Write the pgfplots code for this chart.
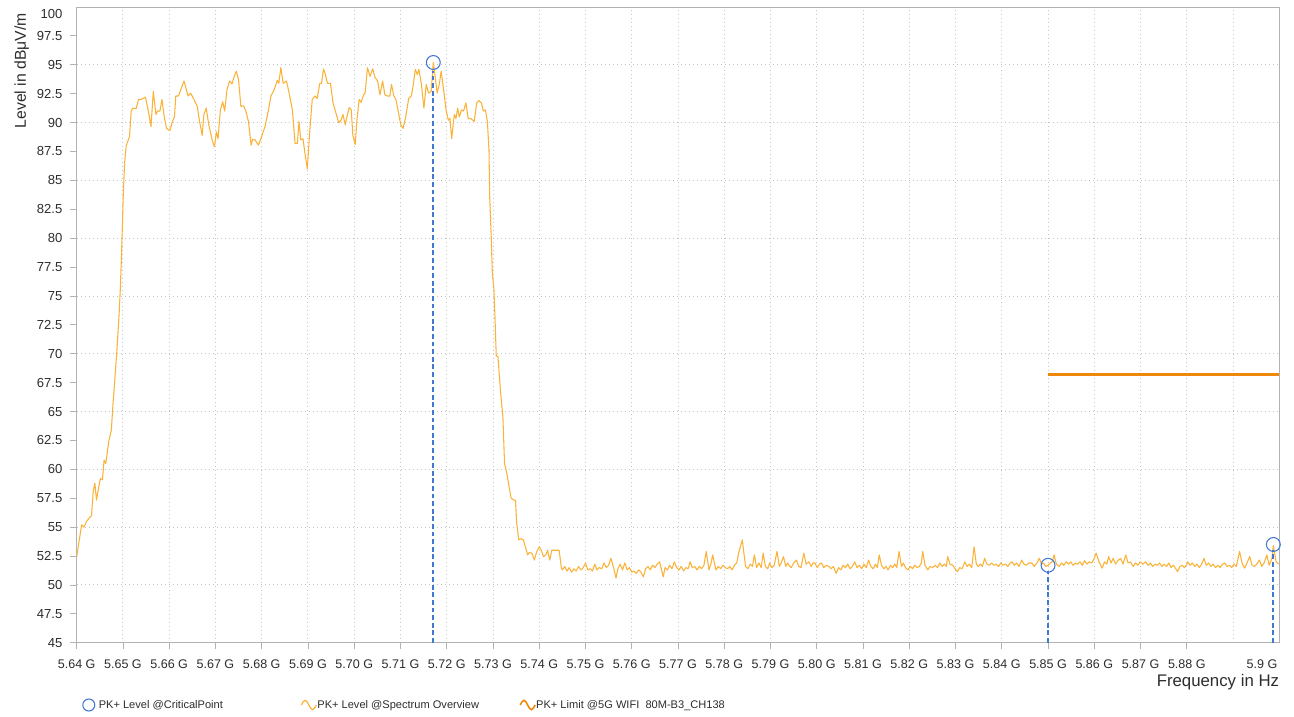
\documentclass[border=0pt]{standalone}
\usepackage{pgfplots}
\pgfplotsset{compat=1.18}
\usepackage{fontspec}
\setmainfont{Liberation Sans}

\definecolor{trace}{RGB}{250,178,56}
\definecolor{limitc}{RGB}{240,136,12}
\definecolor{cpblue}{RGB}{66,120,210}
\definecolor{gridc}{RGB}{196,196,196}
\definecolor{axisc}{RGB}{178,178,178}
\definecolor{txt}{RGB}{45,45,45}

% spectrum trace, frequency in GHz, level in dBuV/m
\pgfplotstableread{
f v
5.64000 52.43
5.64057 53.9
5.64107 55.2
5.64157 55.0
5.64214 55.5
5.64264 55.75
5.64321 56.0
5.64357 58.05
5.64393 58.8
5.64429 57.35
5.64471 58.35
5.64514 59.2
5.64557 59.1
5.64593 60.8
5.64629 60.5
5.64664 61.55
5.64700 62.55
5.64750 63.4
5.64786 65.7
5.64829 68.0
5.64871 70.35
5.64914 73.2
5.64943 75.55
5.64964 77.85
5.64986 80.75
5.65007 83.65
5.65036 86.5
5.65071 88.0
5.65143 88.8
5.65179 91.0
5.65214 91.25
5.65286 91.2
5.65336 92.0
5.65393 92.0
5.65486 92.2
5.65550 91.0
5.65607 89.65
5.65657 92.7
5.65714 90.7
5.65750 91.0
5.65800 91.0
5.65843 92.0
5.65893 90.5
5.65943 89.5
5.66014 89.3
5.66071 90.1
5.66114 90.5
5.66143 92.3
5.66200 92.3
5.66250 92.85
5.66321 93.6
5.66407 92.3
5.66464 92.55
5.66536 92.0
5.66607 91.4
5.66657 90.1
5.66714 88.9
5.66750 90.7
5.66800 91.25
5.66857 89.8
5.66929 88.5
5.66979 87.9
5.67021 89.2
5.67057 88.6
5.67107 91.1
5.67157 91.8
5.67200 91.0
5.67250 92.85
5.67307 93.6
5.67357 93.35
5.67407 94.0
5.67450 94.45
5.67500 93.7
5.67550 91.4
5.67607 91.45
5.67657 91.0
5.67714 90.1
5.67771 88.05
5.67807 88.55
5.67857 88.5
5.67929 88.05
5.68000 88.8
5.68071 89.65
5.68143 91.0
5.68200 92.3
5.68271 92.85
5.68336 93.65
5.68371 93.4
5.68414 94.75
5.68464 93.4
5.68536 93.6
5.68593 92.55
5.68664 91.1
5.68721 88.2
5.68771 88.2
5.68807 90.1
5.68843 88.5
5.68893 88.6
5.68936 87.3
5.68986 86.0
5.69036 89.1
5.69093 92.0
5.69150 92.3
5.69200 92.1
5.69257 93.4
5.69293 93.4
5.69336 94.65
5.69379 94.15
5.69421 93.4
5.69486 93.4
5.69543 91.7
5.69607 90.8
5.69664 90.0
5.69714 90.2
5.69757 90.7
5.69807 89.8
5.69843 90.5
5.69893 91.3
5.69936 91.1
5.69971 88.9
5.70021 88.1
5.70057 90.1
5.70107 92.0
5.70150 91.75
5.70200 92.4
5.70236 92.55
5.70286 94.75
5.70343 94.0
5.70400 94.65
5.70450 93.9
5.70507 93.6
5.70557 92.4
5.70614 93.6
5.70664 92.4
5.70714 92.3
5.70771 92.3
5.70807 93.3
5.70857 92.3
5.70900 92.0
5.70950 91.0
5.71007 89.8
5.71057 89.5
5.71114 90.5
5.71179 92.1
5.71236 92.3
5.71271 93.1
5.71321 94.6
5.71364 94.15
5.71400 94.6
5.71450 93.4
5.71507 91.25
5.71557 93.3
5.71607 92.55
5.71664 92.7
5.71710 95.2
5.71750 94.0
5.71793 92.55
5.71843 93.4
5.71879 94.45
5.71936 92.7
5.71986 91.1
5.72036 90.2
5.72071 90.35
5.72107 88.6
5.72164 90.7
5.72200 90.35
5.72236 91.25
5.72271 90.5
5.72321 91.1
5.72364 91.0
5.72414 91.7
5.72464 90.35
5.72521 90.35
5.72593 90.1
5.72650 91.7
5.72700 91.9
5.72750 91.7
5.72793 91.0
5.72836 91.1
5.72879 90.1
5.72914 87.6
5.72929 83.6
5.72964 79.9
5.72986 77.0
5.73021 75.55
5.73043 73.2
5.73071 69.8
5.73107 69.8
5.73143 67.8
5.73186 65.7
5.73214 64.6
5.73250 60.5
5.73300 59.65
5.73343 58.6
5.73393 57.5
5.73429 57.4
5.73486 57.3
5.73514 55.3
5.73557 53.9
5.73607 54.0
5.73657 53.9
5.73700 53.3
5.73750 52.6
5.73786 52.8
5.73843 52.75
5.73893 52.15
5.73943 52.85
5.74000 53.3
5.74043 53.0
5.74093 52.45
5.74143 52.6
5.74179 53.0
5.74229 52.15
5.74271 53.0
5.74320 53.0
5.74430 53.0
5.74480 51.45
5.7450 51.3
5.7455 51.6
5.7460 51.2
5.7465 51.5
5.7470 51.1
5.7475 51.4
5.7480 51.2
5.7485 51.6
5.7490 51.3
5.7495 51.5
5.7500 51.9
5.7505 51.3
5.7510 51.4
5.7515 51.2
5.7520 51.8
5.7525 51.3
5.7530 51.5
5.7535 51.4
5.7540 51.9
5.7545 51.5
5.7550 51.7
5.7555 52.3
5.7560 51.6
5.7566 50.6
5.7570 51.4
5.7575 51.8
5.7580 51.3
5.7585 51.9
5.7590 51.3
5.7595 51.5
5.7600 51.1
5.7605 51.2
5.7610 51.0
5.7615 51.3
5.7620 51.1
5.7625 50.7
5.7630 51.4
5.7635 51.6
5.7640 51.3
5.7645 51.7
5.7650 51.5
5.7655 51.8
5.7660 52.0
5.7664 51.4
5.7668 50.7
5.7672 51.5
5.7677 51.3
5.7682 51.7
5.7687 51.4
5.7692 52.0
5.7697 51.5
5.7702 51.3
5.7707 51.6
5.7712 51.2
5.7717 51.5
5.7722 51.4
5.7726 52.0
5.7731 51.5
5.7736 51.6
5.7741 51.3
5.7746 51.6
5.7751 51.4
5.7756 51.7
5.7761 52.9
5.7767 51.3
5.7771 51.8
5.7775 52.6
5.7782 51.3
5.7787 51.6
5.7792 51.4
5.7797 51.7
5.7802 51.5
5.7807 51.4
5.7812 51.6
5.7817 51.3
5.7822 51.7
5.7827 51.9
5.7831 52.75
5.7839 53.9
5.7846 51.6
5.7851 51.4
5.7856 51.8
5.7861 51.6
5.7865 52.6
5.7870 51.5
5.7875 51.9
5.7880 51.5
5.7884 52.75
5.7889 51.6
5.7894 51.4
5.7898 51.9
5.7903 51.5
5.7908 51.7
5.7914 52.9
5.7919 51.6
5.7923 51.9
5.7928 52.45
5.7933 51.6
5.7937 51.9
5.7940 51.7
5.7945 51.5
5.7950 51.9
5.7956 52.15
5.7961 51.6
5.7966 51.5
5.7972 52.75
5.7977 51.8
5.7983 52.0
5.7988 51.6
5.7992 51.9
5.7996 51.9
5.8001 51.5
5.8006 51.8
5.8010 51.9
5.8015 51.5
5.8020 51.7
5.8026 51.6
5.8031 51.4
5.8036 51.6
5.8042 51.0
5.8047 51.5
5.8052 51.3
5.8057 51.7
5.8062 51.5
5.8067 51.8
5.8072 51.4
5.8077 51.6
5.8082 52.0
5.8087 51.5
5.8092 51.7
5.8097 51.4
5.8102 51.8
5.8107 51.5
5.8112 52.15
5.8117 51.6
5.8122 51.4
5.8127 51.8
5.8131 51.5
5.8135 52.6
5.8140 51.7
5.8145 51.4
5.8150 51.6
5.8154 51.3
5.8159 51.7
5.8164 51.5
5.8169 51.8
5.8173 51.5
5.8178 52.9
5.8183 51.6
5.8187 51.9
5.8192 51.5
5.8197 51.3
5.8202 51.6
5.8207 51.4
5.8212 51.7
5.8217 51.5
5.8222 51.6
5.8226 51.9
5.8229 52.9
5.8234 51.7
5.8240 51.3
5.8245 51.6
5.8250 51.5
5.8256 51.7
5.8261 51.5
5.8266 51.9
5.8271 51.6
5.8276 51.8
5.8280 51.6
5.8283 52.45
5.8288 51.8
5.8294 51.7
5.8299 51.4
5.8304 51.15
5.8309 51.5
5.8314 51.4
5.8320 52.0
5.8325 51.6
5.8330 51.8
5.8335 51.5
5.8340 53.3
5.8345 51.8
5.8349 51.6
5.8354 51.8
5.8358 51.6
5.8363 52.3
5.8368 51.8
5.8373 51.7
5.8378 51.9
5.8383 51.7
5.8388 51.8
5.8393 51.6
5.8398 51.9
5.8403 51.7
5.8408 51.8
5.8413 51.6
5.8418 51.9
5.8422 52.0
5.8427 51.7
5.8432 51.9
5.8437 51.6
5.8443 52.15
5.8448 51.8
5.8453 51.7
5.8458 51.9
5.8465 51.9
5.8470 51.6
5.8476 51.9
5.8481 52.3
5.8486 51.8
5.8490 51.9
5.8495 51.6
5.8500 51.7
5.8505 51.9
5.8509 52.0
5.8513 52.6
5.8518 51.8
5.8524 51.6
5.8529 51.9
5.8534 51.7
5.8539 52.0
5.8544 51.8
5.8549 52.0
5.8554 51.7
5.8559 51.9
5.8564 51.8
5.8569 52.0
5.8574 51.7
5.8579 52.1
5.8584 51.8
5.8589 52.0
5.8594 51.9
5.8599 52.2
5.8604 52.75
5.8610 52.0
5.8617 51.45
5.8622 52.0
5.8627 51.8
5.8631 52.45
5.8636 51.9
5.8641 52.3
5.8646 51.8
5.8651 52.1
5.8657 52.3
5.8662 51.8
5.8668 52.6
5.8673 51.9
5.8678 52.0
5.8684 51.6
5.8689 51.9
5.8694 51.7
5.8699 52.0
5.8705 51.8
5.8711 52.0
5.8716 51.7
5.8721 51.9
5.8726 51.6
5.8731 51.8
5.8736 51.7
5.8741 51.9
5.8746 51.6
5.8751 51.8
5.8756 51.6
5.8761 51.9
5.8766 51.5
5.8771 51.7
5.8776 51.4
5.8780 51.15
5.8785 51.6
5.8790 51.7
5.8795 51.5
5.8800 51.8
5.8802 52.0
5.8807 51.7
5.8812 51.9
5.8817 51.6
5.8822 51.8
5.8827 51.5
5.8832 51.8
5.8837 52.3
5.8842 51.7
5.8847 51.9
5.8852 51.6
5.8857 51.8
5.8862 51.5
5.8867 51.7
5.8872 51.5
5.8877 51.8
5.8882 51.9
5.8887 51.6
5.8892 51.7
5.8897 51.5
5.8902 51.8
5.8907 51.6
5.8914 52.9
5.8920 51.8
5.8925 51.45
5.8930 51.9
5.8936 52.45
5.8941 51.7
5.8946 51.6
5.8951 51.8
5.8957 52.15
5.8962 51.6
5.8967 51.9
5.8973 52.6
5.8978 51.7
5.8984 52.3
5.8987 53.4
5.8993 52.0
5.8998 51.8
}\spectrum

\begin{document}
\begin{tikzpicture}
\begin{axis}[
  scale only axis, width=902pt, height=476.8pt,
  xmin=5.64, xmax=5.9, ymin=45, ymax=100,
  axis line style={axisc, line width=0.6pt},
  tick pos=left,
  tick align=outside, major tick length=5pt, minor tick length=0pt,
  tick style={axisc, line width=0.6pt},
  xtick={5.64,5.65,5.66,5.67,5.68,5.69,5.70,5.71,5.72,5.73,5.74,5.75,5.76,5.77,5.78,5.79,5.80,5.81,5.82,5.83,5.84,5.85,5.86,5.87,5.88},
  xticklabels={5.64 G,5.65 G,5.66 G,5.67 G,5.68 G,5.69 G,5.70 G,5.71 G,5.72 G,5.73 G,5.74 G,5.75 G,5.76 G,5.77 G,5.78 G,5.79 G,5.80 G,5.81 G,5.82 G,5.83 G,5.84 G,5.85 G,5.86 G,5.87 G,5.88 G},
  ytick={45,47.5,50,52.5,55,57.5,60,62.5,65,67.5,70,72.5,75,77.5,80,82.5,85,87.5,90,92.5,95,97.5},
  yticklabels={45,47.5,50,52.5,55,57.5,60,62.5,65,67.5,70,72.5,75,77.5,80,82.5,85,87.5,90,92.5,95,97.5},
  minor xtick={5.65,5.66,5.67,5.68,5.69,5.70,5.71,5.72,5.73,5.74,5.75,5.76,5.77,5.78,5.79,5.80,5.81,5.82,5.83,5.84,5.85,5.86,5.87,5.88,5.89},
  minor ytick={50,55,60,65,70,75,80,85,90,95},
  xminorgrids=true, yminorgrids=true,
  minor grid style={gridc, dash pattern=on 0.7pt off 2.3pt, line width=0.7pt},
  extra x ticks={5.9}, extra x tick labels={5.9 G},
  extra x tick style={tick style={draw=none}, tick label style={xshift=-13pt}},
  extra y ticks={100}, extra y tick labels={100},
  extra y tick style={tick style={draw=none}, tick label style={yshift=-5pt}},
  xticklabel style={font=\fontsize{9.4}{11}\selectfont, text=txt, inner sep=0pt, yshift=-7.5pt},
  yticklabel style={font=\fontsize{9.8}{11}\selectfont, text=txt, inner sep=0pt, xshift=-5.5pt},
  xlabel={Frequency in Hz},
  ylabel={Level in dBμV/m},
  every axis x label/.style={at={(axis description cs:1,0)}, anchor=east, inner sep=0pt,
    yshift=-29.3pt, font=\fontsize{12.6}{14}\selectfont, text=txt},
  every axis y label/.style={at={(axis description cs:0,1)}, xshift=-41.25pt, yshift=-4.5pt,
    rotate=90, anchor=east, inner sep=0pt, font=\fontsize{11.8}{14}\selectfont, text=txt},
  legend columns=3,
  legend style={at={(axis description cs:0,0)}, anchor=west, xshift=4pt, yshift=-46.7pt,
    draw=none, fill=none, inner sep=0pt, column sep=0pt, row sep=0pt,
    nodes={inner sep=0pt, text=txt, font=\fontsize{8.3}{10}\selectfont, anchor=west}},
]
\addlegendimage{legend image code/.code={\path[draw=none, fill=none] (0pt,-5pt) rectangle (12pt,5pt);
  \draw[cpblue, line width=0.8pt, fill=none] (4.5pt,0pt) circle (4.5pt);}}
\addlegendentry{\makebox[151.5pt][l]{PK+ Level @CriticalPoint}}
\addlegendimage{legend image code/.code={\path[draw=none, fill=none] (0pt,-5pt) rectangle (12pt,5pt);
  \draw[trace, line width=0.9pt, fill=none] (0pt,0pt) sin (2.8pt,3.5pt) cos (5.6pt,0pt) sin (8.4pt,-3.5pt) cos (11.2pt,0pt);}}
\addlegendentry{\makebox[151.5pt][l]{PK+ Level @Spectrum Overview}}
\addlegendimage{legend image code/.code={\path[draw=none, fill=none] (0pt,-5pt) rectangle (12pt,5pt);
  \draw[limitc, line width=1.2pt, fill=none] (0pt,0pt) sin (2.8pt,3.5pt) cos (5.6pt,0pt) sin (8.4pt,-3.5pt) cos (11.2pt,0pt);}}
\addlegendentry{PK+ Limit @5G WIFI\ \ 80M-B3\_CH138}

\addplot[trace, line width=0.8pt, line join=round, forget plot] table[x=f, y=v] {\spectrum};
\addplot[limitc, line width=1.8pt, forget plot] coordinates {(5.85,68.2) (5.9,68.2)};
\addplot[cpblue, solid, line width=1.3pt, dash pattern=on 3.5pt off 2.2pt, forget plot] coordinates {(5.7171,45) (5.7171,94.5)};
\addplot[cpblue, solid, line width=1.3pt, dash pattern=on 3.5pt off 2.2pt, forget plot] coordinates {(5.85,45) (5.85,51.2)};
\addplot[cpblue, solid, line width=1.3pt, dash pattern=on 3.5pt off 2.2pt, forget plot] coordinates {(5.8987,45) (5.8987,53.0)};
\addplot[only marks, mark=o, mark size=5.2pt, mark options={draw=cpblue, line width=0.8pt}, forget plot]
  coordinates {(5.7171,95.2) (5.85,51.7) (5.8987,53.5)};
\end{axis}
\path ([xshift=-57.5pt,yshift=-55pt]current axis.south west) rectangle ([xshift=11pt,yshift=5.25pt]current axis.north east);
\end{tikzpicture}
\end{document}
